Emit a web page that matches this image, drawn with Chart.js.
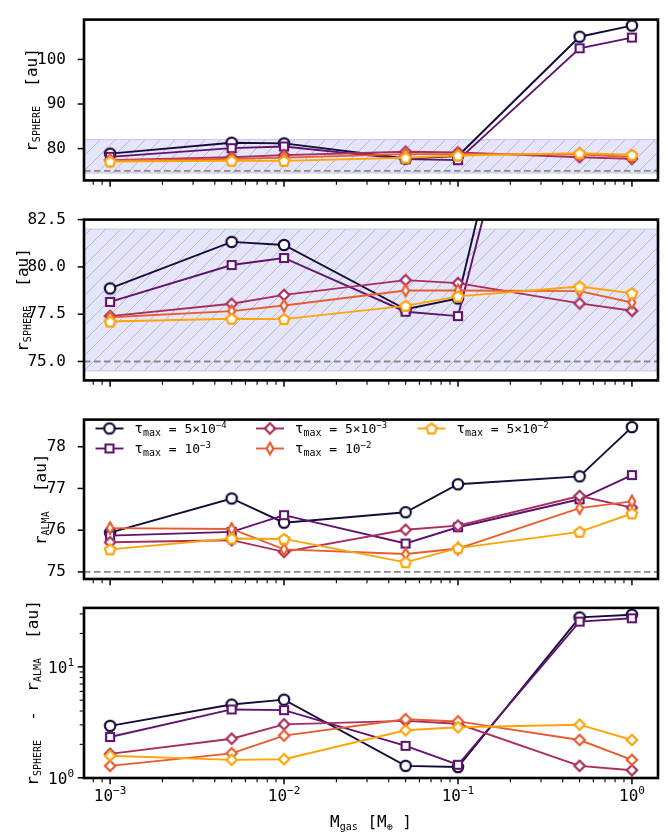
<!DOCTYPE html>
<html>
<head>
<meta charset="utf-8">
<script src="https://cdn.jsdelivr.net/npm/chart.js@4.4.1/dist/chart.umd.min.js"></script>
<style>
  html, body { margin: 0; padding: 0; background: #fff; }
  #wrap { position: relative; width: 668px; height: 832px; }
  canvas { position: absolute; left: 0; }
</style>
</head>
<body>
<div id="wrap">
  <canvas id="p1" width="668" height="200" style="top:0px"></canvas>
  <canvas id="p2" width="668" height="200" style="top:200px"></canvas>
  <canvas id="p3" width="668" height="200" style="top:400px"></canvas>
  <canvas id="p4" width="668" height="232" style="top:600px"></canvas>
</div>
<script>
// Gas mass grid [M_earth]
const M_GAS = [1e-3, 5e-3, 1e-2, 5e-2, 1e-1, 5e-1, 1];

// tau_max of each series (legend text: mantissa, exponent)
const TAU_MANT = ['5×10', '10', '5×10', '10', '5×10'];
const TAU_EXP = ['−4', '−3', '−3', '−2', '−2'];

// r_SPHERE [au]
const R_SPHERE_5E4 = [78.86, 81.32, 81.16, 77.76, 78.33, 105.1, 107.6];
const R_SPHERE_1E3 = [78.15, 80.10, 80.47, 77.63, 77.40, 102.5, 104.9];
const R_SPHERE_5E3 = [77.40, 78.05, 78.52, 79.30, 79.14, 78.07, 77.68];
const R_SPHERE_1E2 = [77.34, 77.66, 77.96, 78.75, 78.75, 78.72, 78.12];
const R_SPHERE_5E2 = [77.11, 77.26, 77.24, 77.94, 78.44, 78.96, 78.61];

// r_ALMA [au]
const R_ALMA_5E4 = [75.94, 76.76, 76.18, 76.43, 77.10, 77.29, 78.47];
const R_ALMA_1E3 = [75.87, 75.96, 76.36, 75.68, 76.07, 76.74, 77.32];
const R_ALMA_5E3 = [75.71, 75.76, 75.48, 76.01, 76.11, 76.82, 76.54];
const R_ALMA_1E2 = [76.05, 76.03, 75.54, 75.43, 75.56, 76.53, 76.69];
const R_ALMA_5E2 = [75.54, 75.80, 75.79, 75.23, 75.57, 75.96, 76.40];

// r_SPHERE - r_ALMA [au]
const DR_5E4 = [2.94, 4.57, 5.06, 1.28, 1.25, 27.9, 29.5];
const DR_1E3 = [2.33, 4.13, 4.07, 1.94, 1.31, 25.6, 27.4];
const DR_5E3 = [1.64, 2.25, 3.03, 3.26, 3.07, 1.28, 1.17];
const DR_1E2 = [1.28, 1.66, 2.40, 3.37, 3.22, 2.19, 1.45];
const DR_5E2 = [1.58, 1.45, 1.47, 2.68, 2.85, 3.01, 2.19];

// observed SPHERE band and reference radius
const BAND_LOW = 74.5;
const BAND_HIGH = 82;
const R_REF = 75;

// axis ranges and ticks
const X_RANGE = [7.08e-4, 1.412];
const X_MAJOR = [1e-3, 1e-2, 1e-1, 1];
const X_EXP = ['−3', '−2', '−1', '0'];
const Y1_RANGE = [72.86, 108.94];
const Y1_TICKS = [80, 90, 100];
const Y1_LABELS = ['80', '90', '100'];
const Y2_RANGE = [74, 82.5];
const Y2_TICKS = [75, 77.5, 80, 82.5];
const Y2_LABELS = ['75.0', '77.5', '80.0', '82.5'];
const Y3_RANGE = [74.83, 78.65];
const Y3_TICKS = [75, 76, 77, 78];
const Y3_LABELS = ['75', '76', '77', '78'];
const Y4_RANGE = [0.995, 34];
const Y4_MAJOR = [1, 10];
const Y4_EXP = ['0', '1'];

// minor log ticks (2..9 per decade)
function logMinor(lo, hi) {
    const out = [];
    for (let e = -4; e <= 1; e++) {
        for (let k = 2; k <= 9; k++) {
            const v = k * Math.pow(10, e);
            if (v >= lo && v <= hi) out.push(v);
        }
    }
    return out;
}
const X_MINOR = logMinor(X_RANGE[0], X_RANGE[1]);
const Y4_MINOR = logMinor(Y4_RANGE[0], Y4_RANGE[1]);

const COLORS = ['#160b39', '#5f136e', '#a82e5f', '#e65d2f', '#fca50a'];
const FONT = '"DejaVu Sans Mono", monospace';

// Marker images (white face, coloured edge)
function makeMarker(shape, color) {
    const s = 22, m = s / 2;
    const c = document.createElement('canvas');
    c.width = s; c.height = s;
    const g = c.getContext('2d');
    g.beginPath();
    if (shape === 'circle') {
        g.arc(m, m, 5.2, 0, Math.PI * 2);
    } else if (shape === 'square') {
        g.rect(m - 4, m - 4, 8, 8);
    } else if (shape === 'diamond') {
        g.moveTo(m, m - 5.2); g.lineTo(m + 5.2, m); g.lineTo(m, m + 5.2); g.lineTo(m - 5.2, m); g.closePath();
    } else if (shape === 'thin') {
        g.moveTo(m, m - 5.8); g.lineTo(m + 3.3, m); g.lineTo(m, m + 5.8); g.lineTo(m - 3.3, m); g.closePath();
    } else if (shape === 'pentagon') {
        for (let k = 0; k < 5; k++) {
            const a = -Math.PI / 2 + k * 2 * Math.PI / 5;
            const px = m + 5.5 * Math.cos(a), py = m + 0.5 + 5.5 * Math.sin(a);
            if (k === 0) g.moveTo(px, py); else g.lineTo(px, py);
        }
        g.closePath();
    }
    g.fillStyle = '#fff';
    g.fill();
    g.lineWidth = 2.2;
    g.lineJoin = 'miter';
    g.strokeStyle = color;
    g.stroke();
    return c;
}

const SHAPES_A = ['circle', 'square', 'diamond', 'thin', 'pentagon'];
const SHAPES_B = ['circle', 'square', 'diamond', 'diamond', 'diamond'];
const MARKERS_A = SHAPES_A.map((s, i) => makeMarker(s, COLORS[i]));
const MARKERS_B = SHAPES_B.map((s, i) => makeMarker(s, COLORS[i]));

// text with sub/superscript pieces: [text, size, dy]
function drawRich(ctx, parts, x, y, align) {
    let w = 0;
    parts.forEach(p => { ctx.font = p[1] + 'px ' + FONT; w += ctx.measureText(p[0]).width; });
    let cx = x;
    if (align === 'center') cx = x - w / 2;
    if (align === 'right') cx = x - w;
    ctx.textAlign = 'left';
    ctx.textBaseline = 'alphabetic';
    parts.forEach(p => {
        ctx.font = p[1] + 'px ' + FONT;
        ctx.fillText(p[0], cx, y + p[2]);
        cx += ctx.measureText(p[0]).width;
    });
}

function hatchPattern(ctx) {
    const s = 15;
    const c = document.createElement('canvas');
    c.width = s; c.height = s;
    const g = c.getContext('2d');
    g.strokeStyle = 'rgba(95, 95, 140, 0.35)';
    g.lineWidth = 1;
    g.beginPath();
    g.moveTo(-2, 2); g.lineTo(2, -2);
    g.moveTo(0, s); g.lineTo(s, 0);
    g.moveTo(s - 2, s + 2); g.lineTo(s + 2, s - 2);
    g.stroke();
    return ctx.createPattern(c, 'repeat');
}

const DECOR = {
    p1: { band: true, titleX: 37, title: [['r', 16, 0], ['SPHERE', 10, 3], ['  [au]', 16, 0]] },
    p2: { band: true, titleX: 28, title: [['r', 16, 0], ['SPHERE', 10, 3], ['  [au]', 16, 0]] },
    p3: { band: false, legend: true, titleX: 46, title: [['r', 16, 0], ['ALMA', 10, 3], ['  [au]', 16, 0]] },
    p4: { band: false, noRef: true, logLabels: true, titleX: 38,
          title: [['r', 16, 0], ['SPHERE', 10, 3], ['  -  r', 16, 0], ['ALMA', 10, 3], ['  [au]', 16, 0]] }
};

const decor = {
    id: 'decor',
    beforeDatasetsDraw(chart) {
        const cfg = DECOR[chart.canvas.id];
        const { ctx, chartArea: a } = chart;
        const y = chart.scales.y;
        ctx.save();
        ctx.beginPath();
        ctx.rect(a.left, a.top, a.right - a.left, a.bottom - a.top);
        ctx.clip();
        if (cfg.band) {
            const yt = y.getPixelForValue(BAND_HIGH), yb = y.getPixelForValue(BAND_LOW);
            ctx.fillStyle = '#e6e6fa';
            ctx.fillRect(a.left, yt, a.right - a.left, yb - yt);
            ctx.fillStyle = hatchPattern(ctx);
            ctx.fillRect(a.left, yt, a.right - a.left, yb - yt);
            ctx.strokeStyle = '#c6c6de';
            ctx.lineWidth = 1;
            ctx.beginPath();
            ctx.moveTo(a.left, yt); ctx.lineTo(a.right, yt);
            ctx.moveTo(a.left, yb); ctx.lineTo(a.right, yb);
            ctx.stroke();
        }
        if (!cfg.noRef) {
            const yr = y.getPixelForValue(R_REF);
            ctx.strokeStyle = '#8a8a8a';
            ctx.lineWidth = 1.8;
            ctx.setLineDash([6.5, 3.5]);
            ctx.beginPath();
            ctx.moveTo(a.left, yr); ctx.lineTo(a.right, yr);
            ctx.stroke();
        }
        ctx.restore();
    },
    afterDraw(chart) {
        const cfg = DECOR[chart.canvas.id];
        const { ctx, chartArea: a } = chart;
        const xs = chart.scales.x, ys = chart.scales.y;
        ctx.save();
        ctx.strokeStyle = '#000';
        // tick marks
        xs.ticks.forEach(t => {
            const p = xs.getPixelForValue(t.value);
            ctx.lineWidth = t.major ? 1.5 : 1.1;
            ctx.beginPath();
            ctx.moveTo(p, a.bottom);
            ctx.lineTo(p, a.bottom + 1.3 + (t.major ? 5 : 3));
            ctx.stroke();
        });
        ys.ticks.forEach(t => {
            const p = ys.getPixelForValue(t.value);
            ctx.lineWidth = t.major ? 1.5 : 1.1;
            ctx.beginPath();
            ctx.moveTo(a.left, p);
            ctx.lineTo(a.left - 1.3 - (t.major ? 5 : 3), p);
            ctx.stroke();
        });
        // frame
        ctx.lineWidth = 2.6;
        ctx.strokeRect(a.left, a.top, a.right - a.left, a.bottom - a.top);
        ctx.fillStyle = '#000';
        // power-of-ten labels and x title (bottom panel)
        if (cfg.logLabels) {
            X_MAJOR.forEach((v, i) => {
                drawRich(ctx, [['10', 16, 0], [X_EXP[i], 11, -6.5]], xs.getPixelForValue(v), a.bottom + 22.5, 'center');
            });
            Y4_MAJOR.forEach((v, i) => {
                drawRich(ctx, [['10', 16, 0], [Y4_EXP[i], 11, -6.5]], a.left - 10, ys.getPixelForValue(v) + 6, 'right');
            });
            drawRich(ctx, [['M', 16, 0], ['gas', 10, 3], [' [M', 16, 0], ['⊕', 10, 3], [' ]', 16, 0]],
                (a.left + a.right) / 2, a.bottom + 48.5, 'center');
        }
        // y title
        ctx.save();
        ctx.translate(cfg.titleX, (a.top + a.bottom) / 2);
        ctx.rotate(-Math.PI / 2);
        drawRich(ctx, cfg.title, 0, 0, 'center');
        ctx.restore();
        // legend (two rows, three columns)
        if (cfg.legend) {
            const colX = [109.5, 270, 431.5];
            const rowY = [28.5, 48.5];
            TAU_MANT.forEach((mant, i) => {
                const cx = colX[Math.floor(i / 2)], cy = rowY[i % 2];
                ctx.strokeStyle = COLORS[i];
                ctx.lineWidth = 1.9;
                ctx.beginPath();
                ctx.moveTo(cx - 14, cy); ctx.lineTo(cx + 14, cy);
                ctx.stroke();
                const mk = MARKERS_A[i];
                ctx.drawImage(mk, cx - mk.width / 2, cy - mk.height / 2);
                ctx.fillStyle = '#000';
                drawRich(ctx, [['τ', 14, 0], ['max', 10, 3], [' = ' + mant, 13, 0], [TAU_EXP[i], 9, -5]],
                    cx + 25, cy + 4.5, 'left');
            });
        }
        ctx.restore();
    }
};

function fixedTicks(major, minor) {
    return scale => {
        const t = major.map(v => ({ value: v, major: true }))
            .concat((minor || []).map(v => ({ value: v, major: false })));
        scale.ticks = t.filter(k => k.value >= scale.min && k.value <= scale.max)
            .sort((p, q) => p.value - q.value);
    };
}

function labelFrom(major, labels) {
    return v => {
        const i = major.findIndex(m => Math.abs(m - v) <= 1e-9 * Math.abs(m));
        return i >= 0 ? labels[i] : '';
    };
}

function makePanel(id, opt) {
    const datasets = opt.series.map((vals, i) => ({
        data: M_GAS.map((m, j) => ({ x: m, y: vals[j] })),
        borderColor: COLORS[i],
        borderWidth: 1.9,
        pointStyle: opt.markers[i],
        pointRadius: 6,
        pointHoverRadius: 6,
        tension: 0,
        fill: false,
        order: opt.series.length - 1 - i
    }));
    return new Chart(document.getElementById(id), {
        type: 'line',
        data: { datasets },
        options: {
            responsive: false,
            animation: false,
            events: [],
            layout: { padding: { top: opt.padTop, right: 10, left: 0, bottom: 0 } },
            plugins: { legend: { display: false }, tooltip: { enabled: false } },
            scales: {
                x: {
                    type: 'logarithmic',
                    min: X_RANGE[0], max: X_RANGE[1], bounds: 'data',
                    grid: { display: false }, border: { display: false },
                    ticks: { display: false, autoSkip: false },
                    afterBuildTicks: fixedTicks(X_MAJOR, X_MINOR),
                    afterFit: s => { s.height = opt.xHeight; }
                },
                y: {
                    type: opt.yType,
                    min: opt.yRange[0], max: opt.yRange[1], bounds: 'data',
                    grid: { display: false }, border: { display: false },
                    ticks: {
                        display: !!opt.yLabels, autoSkip: false, padding: 10, color: '#000',
                        font: { family: FONT, size: 16 },
                        callback: opt.yLabels ? labelFrom(opt.yMajor, opt.yLabels) : undefined
                    },
                    afterBuildTicks: fixedTicks(opt.yMajor, opt.yMinor),
                    afterFit: s => { s.width = 84; }
                }
            }
        },
        plugins: [decor]
    });
}

makePanel('p1', {
    series: [R_SPHERE_5E4, R_SPHERE_1E3, R_SPHERE_5E3, R_SPHERE_1E2, R_SPHERE_5E2],
    markers: MARKERS_A, padTop: 8, xHeight: 18,
    yType: 'linear', yRange: Y1_RANGE, yMajor: Y1_TICKS, yLabels: Y1_LABELS
});
makePanel('p2', {
    series: [R_SPHERE_5E4, R_SPHERE_1E3, R_SPHERE_5E3, R_SPHERE_1E2, R_SPHERE_5E2],
    markers: MARKERS_A, padTop: 7, xHeight: 18,
    yType: 'linear', yRange: Y2_RANGE, yMajor: Y2_TICKS, yLabels: Y2_LABELS
});
makePanel('p3', {
    series: [R_ALMA_5E4, R_ALMA_1E3, R_ALMA_5E3, R_ALMA_1E2, R_ALMA_5E2],
    markers: MARKERS_A, padTop: 5, xHeight: 21,
    yType: 'linear', yRange: Y3_RANGE, yMajor: Y3_TICKS, yLabels: Y3_LABELS
});
makePanel('p4', {
    series: [DR_5E4, DR_1E3, DR_5E3, DR_1E2, DR_5E2],
    markers: MARKERS_B, padTop: 4, xHeight: 54,
    yType: 'logarithmic', yRange: Y4_RANGE, yMajor: Y4_MAJOR, yMinor: Y4_MINOR
});
</script>
</body>
</html>
